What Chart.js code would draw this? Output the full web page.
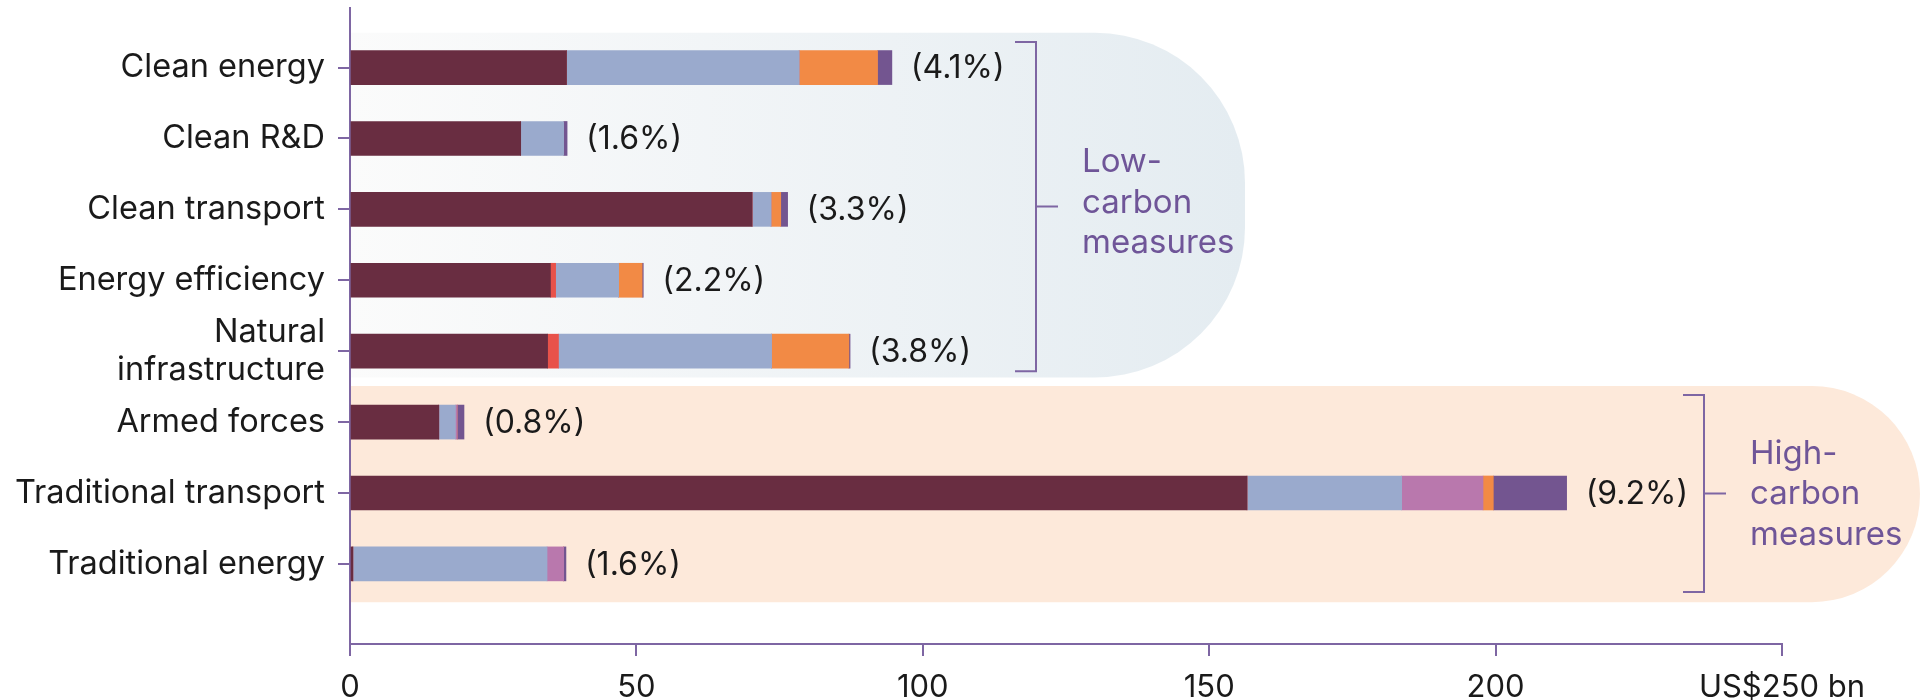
<!DOCTYPE html>
<html>
<head>
<meta charset="utf-8">
<script src="https://cdn.jsdelivr.net/npm/chart.js@4.4.1/dist/chart.umd.min.js"></script>
<style>
  html, body { margin: 0; padding: 0; background: #fff; }
  canvas { display: block; }
</style>
</head>
<body>
<canvas id="chart" width="1920" height="700"></canvas>
<script>
const categories = [
  "Clean energy",
  "Clean R&D",
  "Clean transport",
  "Energy efficiency",
  ["Natural", "infrastructure"],
  "Armed forces",
  "Traditional transport",
  "Traditional energy"
];

// US$ bn per segment
const maroonValues = [37.8, 29.8, 70.2, 35.0, 34.5, 15.5, 156.6, 0.5];
const redValues    = [0, 0, 0, 0.9, 1.9, 0, 0, 0];
const blueValues   = [40.6, 7.5, 3.3, 11.0, 37.2, 2.9, 27.0, 33.9];
const pinkValues   = [0, 0, 0, 0, 0, 0.3, 14.2, 2.9];
const orangeValues = [13.7, 0, 1.7, 4.1, 13.5, 0, 1.8, 0];
const purpleValues = [2.5, 0.6, 1.2, 0.2, 0.2, 1.2, 12.8, 0.4];

const shareLabels = ["(4.1%)", "(1.6%)", "(3.3%)", "(2.2%)", "(3.8%)", "(0.8%)", "(9.2%)", "(1.6%)"];

const xTicks = [0, 50, 100, 150, 200, 250];
const groups = [
  { lines: ["Low-", "carbon", "measures"], from: 0, to: 4 },
  { lines: ["High-", "carbon", "measures"], from: 5, to: 7 }
];

const AXIS = "#7e66a3";
const GROUP_TEXT = "#6f5598";
const FONT = "Inter, Roboto, sans-serif";

function series(values, color) {
  return {
    data: values.map((v, i) => ({ x: v, y: i })),
    backgroundColor: color,
    borderWidth: 0,
    barThickness: 34
  };
}

const backdrop = {
  id: "backdrop",
  beforeDraw(chart) {
    const ctx = chart.ctx;
    const y = chart.scales.y;
    const left = chart.chartArea.left;
    const step = y.getPixelForValue(1) - y.getPixelForValue(0);
    ctx.save();
    ctx.fillStyle = "#fff";
    ctx.fillRect(0, 0, chart.width, chart.height);

    // low-carbon panel
    const lt = y.getPixelForValue(0) - 0.49 * step;
    const lb = y.getPixelForValue(4) + 0.37 * step;
    const lr = 1245;
    const g = ctx.createLinearGradient(left, 0, lr, 0);
    g.addColorStop(0, "#fbfbfb");
    g.addColorStop(1, "#e4ecf1");
    ctx.fillStyle = g;
    ctx.beginPath();
    ctx.roundRect(left, lt, lr - left, lb - lt, [0, 150, 150, 0]);
    ctx.fill();

    // high-carbon panel
    const ht = y.getPixelForValue(5) - 0.51 * step;
    const hb = y.getPixelForValue(7) + 0.54 * step;
    ctx.fillStyle = "#fde9da";
    ctx.beginPath();
    ctx.roundRect(left, ht, chart.width - left, hb - ht, [0, (hb - ht) / 2, (hb - ht) / 2, 0]);
    ctx.fill();
    ctx.restore();
  }
};

const annotations = {
  id: "annotations",
  afterDatasetsDraw(chart) {
    const ctx = chart.ctx;
    const x = chart.scales.x;
    const y = chart.scales.y;
    ctx.save();
    ctx.font = "32px " + FONT;
    ctx.fillStyle = "#1a1a1a";
    ctx.textAlign = "left";
    ctx.textBaseline = "middle";
    categories.forEach((c, i) => {
      const total = maroonValues[i] + redValues[i] + blueValues[i] + pinkValues[i] + orangeValues[i] + purpleValues[i];
      ctx.fillText(shareLabels[i], x.getPixelForValue(total) + 19, y.getPixelForValue(i) + 1);
    });

    // brackets with group names
    const brackets = [
      { x: 1036, top: y.getPixelForValue(0) - 25.5, bottom: y.getPixelForValue(4) + 20, shift: -4 },
      { x: 1704, top: y.getPixelForValue(5) - 27, bottom: y.getPixelForValue(7) + 28, shift: 1 }
    ];
    ctx.strokeStyle = AXIS;
    ctx.lineWidth = 2;
    ctx.font = "33px " + FONT;
    brackets.forEach((b, k) => {
      const mid = (b.top + b.bottom) / 2;
      ctx.beginPath();
      ctx.moveTo(b.x - 21, b.top);
      ctx.lineTo(b.x, b.top);
      ctx.lineTo(b.x, b.bottom);
      ctx.lineTo(b.x - 21, b.bottom);
      ctx.moveTo(b.x, mid);
      ctx.lineTo(b.x + 22, mid);
      ctx.stroke();

      ctx.fillStyle = GROUP_TEXT;
      const lines = groups[k].lines;
      lines.forEach((t, j) => {
        ctx.fillText(t, b.x + 46, mid + b.shift + (j - (lines.length - 1) / 2) * 40.5);
      });
    });
    ctx.restore();
  }
};

new Chart(document.getElementById("chart"), {
  type: "bar",
  data: {
    datasets: [
      series(maroonValues, "#692d41"),
      series(redValues, "#e8524a"),
      series(blueValues, "#9aaacd"),
      series(pinkValues, "#b978ad"),
      series(orangeValues, "#f28a45"),
      series(purpleValues, "#735590")
    ]
  },
  options: {
    indexAxis: "y",
    responsive: false,
    animation: false,
    devicePixelRatio: 1,
    layout: { padding: { top: 8, right: 138, left: 0, bottom: 0 } },
    plugins: { legend: { display: false }, tooltip: { enabled: false } },
    scales: {
      x: {
        type: "linear",
        stacked: true,
        min: 0,
        max: 250,
        afterBuildTicks: (s) => { s.ticks = xTicks.map(v => ({ value: v })); },
        afterFit: (s) => { s.height = 56; },
        ticks: {
          color: "#1a1a1a",
          font: { family: FONT, size: 31, lineHeight: 1.25 },
          padding: 12,
          maxRotation: 0,
          autoSkip: false,
          callback: (v) => v === 250 ? "US$250 bn" : String(v)
        },
        grid: { drawOnChartArea: false, color: AXIS, lineWidth: 2, tickLength: 12 },
        border: { color: AXIS, width: 2 }
      },
      y: {
        type: "linear",
        stacked: true,
        reverse: true,
        offset: false,
        min: -0.84,
        max: 8.13,
        afterBuildTicks: (s) => { s.ticks = categories.map((c, i) => ({ value: i })); },
        afterFit: (s) => { s.width = 350; s.paddingTop = 0; s.paddingBottom = 0; },
        ticks: {
          color: "#1a1a1a",
          font: { family: FONT, size: 32.5, lineHeight: 1.15 },
          padding: 13,
          autoSkip: false,
          callback: (v) => categories[v]
        },
        grid: { offset: false, drawOnChartArea: false, color: AXIS, lineWidth: 2, tickLength: 12 },
        border: { color: AXIS, width: 2 }
      }
    }
  },
  plugins: [backdrop, annotations]
});
</script>
</body>
</html>
